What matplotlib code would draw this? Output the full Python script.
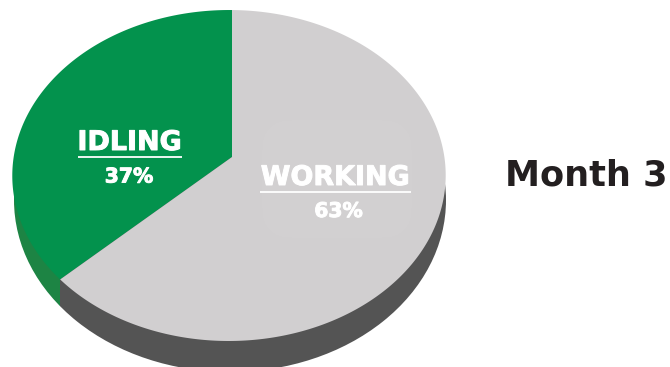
import numpy as np
import matplotlib
matplotlib.use("Agg")
import matplotlib.pyplot as plt
import matplotlib.patheffects as pe
from matplotlib.patches import Polygon, Ellipse, Rectangle, FancyBboxPatch

W, H = 670, 367
categories = ["IDLING", "WORKING"]
shares = [37, 63]
colors = ["#03924d", "#d1cfd0"]
side_colors = ["#1d8444", "#545454"]
period_label = "Month 3"

# Tilted-disc projection parameters, in pixel units
APEX = (232.0, 157.0)
RX, RY = 215.3, 163.4
KV, KU = 0.1118, 0.0138

# Outline of the underside of the disc
BASE_CENTER = (230.0, 200.0)
BASE_W, BASE_H = 432.0, 344.0


def project(theta):
    """Map clockwise-from-top angles on the unit disc to the tilted view."""
    u, v = np.sin(theta), np.cos(theta)
    w = 1 + KV * v + KU * u
    return APEX[0] + RX * u / w, APEX[1] - RY * v / w


fig = plt.figure(figsize=(W / 100, H / 100), dpi=100)
ax = fig.add_axes([0, 0, 1, 1])
ax.set_xlim(0, W)
ax.set_ylim(H, 0)
ax.axis("off")

first = shares[0] / sum(shares) * 2 * np.pi
# The first category runs anticlockwise from the top, the rest fills the circle.
spans = [(-first, 0.0), (0.0, 2 * np.pi - first)]

# Side wall: the underside ellipse, split where the slices meet on the rim.
split_x, _ = project(np.array(-first))
for (x0, x1), side in zip([(0, split_x), (split_x, W)], side_colors):
    base = Ellipse(BASE_CENTER, BASE_W, BASE_H, facecolor=side, edgecolor="none", zorder=1)
    ax.add_patch(base)
    base.set_clip_path(Rectangle((x0, 0), x1 - x0, H, transform=ax.transData))

# Top surface
for (a, b), face in zip(spans, colors):
    x, y = project(np.linspace(a, b, 500))
    ax.add_patch(Polygon(np.vstack([[APEX], np.column_stack([x, y])]), closed=True,
                         facecolor=face, edgecolor="none", zorder=2))

# Faint lighter panel behind the larger slice's caption
ax.add_patch(FancyBboxPatch((262, 120), 150, 118, boxstyle="round,pad=0,rounding_size=30",
                            facecolor="#d2d0d1", edgecolor="none", zorder=2.5))

# Category captions with a rule between name and percentage
heavy = [pe.withStroke(linewidth=0.7, foreground="white")]
label_specs = [(129.5, 150, 157, 129, 182.5, 77.5, 181.5), (335, 185, 192, 338.5, 217, 259.5, 411)]
for name, share, (cx, y1, yr, cx2, y2, x0, x1) in zip(categories, shares, label_specs):
    ax.text(cx, y1, name, color="white", fontsize=19.4, family="DejaVu Sans", weight="bold",
            ha="center", va="baseline", zorder=3, path_effects=heavy)
    ax.plot([x0, x1], [yr, yr], color="white", lw=1.3, solid_capstyle="butt", zorder=3)
    ax.text(cx2, y2, f"{share}%", color="white", fontsize=14.6, family="DejaVu Sans", weight="bold",
            ha="center", va="baseline", zorder=3, path_effects=heavy)

ax.text(505, 185, period_label, color="#231f20", fontsize=25.3, family="DejaVu Sans", weight="bold",
        ha="left", va="baseline", zorder=3)

fig.savefig("out.png", dpi=100)
